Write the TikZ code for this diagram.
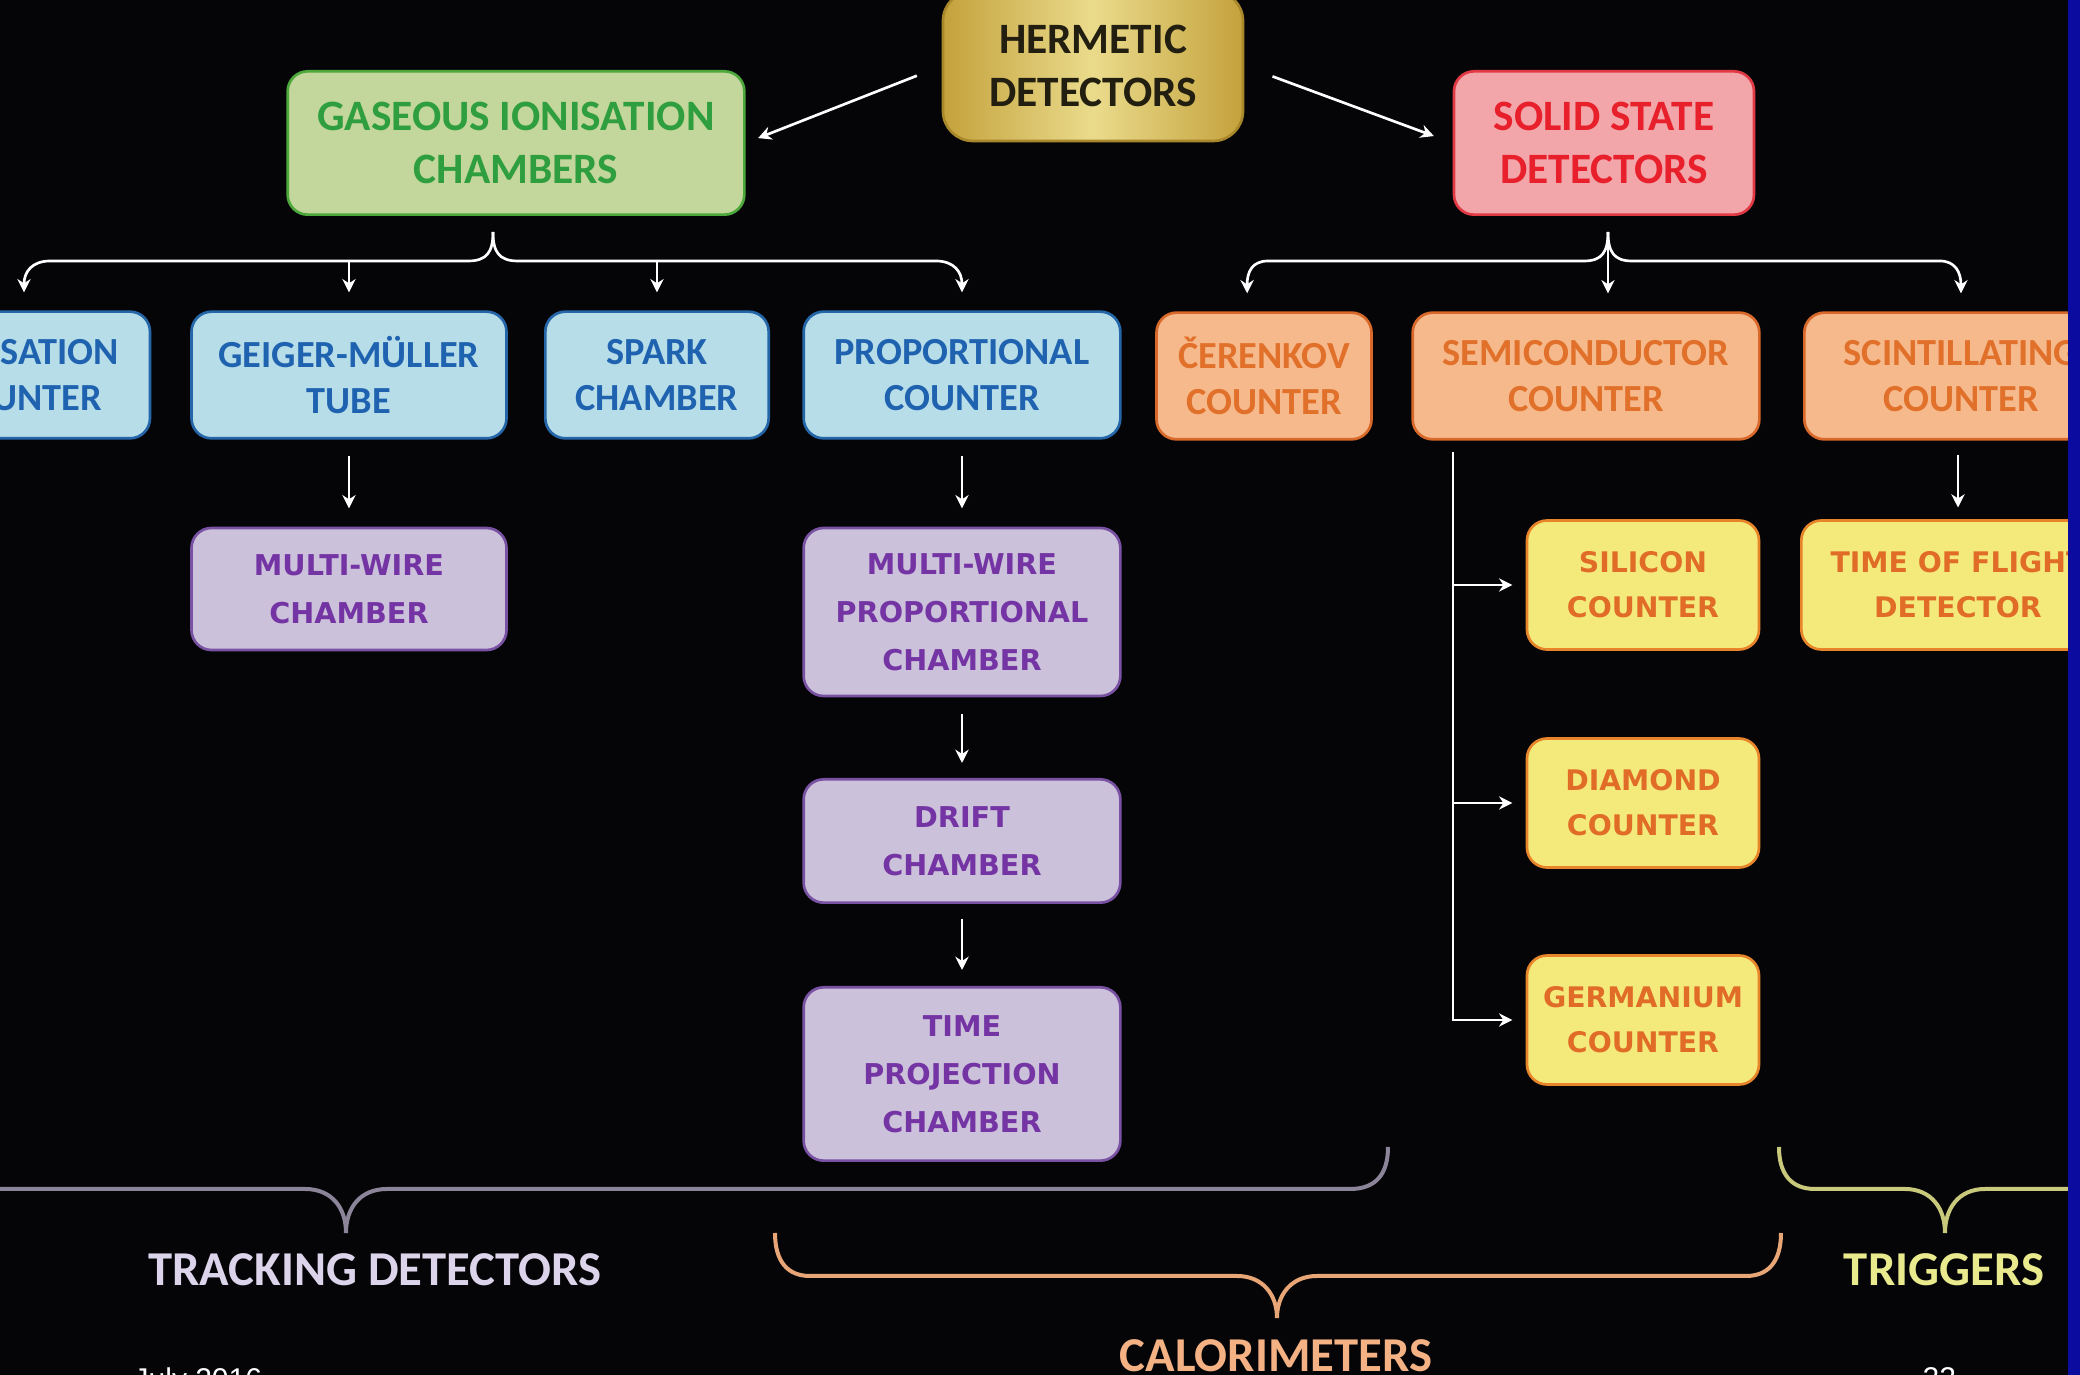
\documentclass[tikz,border=0pt]{standalone}
\usepackage{fontspec}
\setmainfont{Carlito}
\newfontfamily\widefont{DejaVu Sans}
\newfontfamily\footfont{Liberation Sans}
\usetikzlibrary{arrows.meta}

\definecolor{bgblack}{HTML}{050508}
\definecolor{slideblue}{HTML}{0B0BA0}
\definecolor{goldlight}{HTML}{EADB8C}
\definecolor{golddark}{HTML}{C4A23C}
\definecolor{goldedge}{HTML}{A8882A}
\definecolor{goldtext}{HTML}{221E10}
\definecolor{gasfill}{HTML}{C3D69B}
\definecolor{gasedge}{HTML}{4CA83A}
\definecolor{gastext}{HTML}{2E9E3E}
\definecolor{solidfill}{HTML}{F2A6AA}
\definecolor{solidedge}{HTML}{E23A44}
\definecolor{solidtext}{HTML}{E8202C}
\definecolor{bluefill}{HTML}{B7DDE8}
\definecolor{blueedge}{HTML}{2466A8}
\definecolor{bluetext}{HTML}{1F63B0}
\definecolor{orangefill}{HTML}{F6B98C}
\definecolor{orangeedge}{HTML}{D8692A}
\definecolor{orangetext}{HTML}{E0702A}
\definecolor{purplefill}{HTML}{CCC1DA}
\definecolor{purpleedge}{HTML}{7A52A4}
\definecolor{purpletext}{HTML}{7434A4}
\definecolor{yellowfill}{HTML}{F4EA7C}
\definecolor{yellowedge}{HTML}{E8852A}
\definecolor{yellowtext}{HTML}{E06C28}
\definecolor{trackline}{HTML}{8C8599}
\definecolor{tracktext}{HTML}{DCD4EA}
\definecolor{caloline}{HTML}{E8A677}
\definecolor{calotext}{HTML}{F4B183}
\definecolor{trigline}{HTML}{C9C97C}
\definecolor{trigtext}{HTML}{E9E98E}

\begin{document}
\begin{tikzpicture}[x=0.3pt, y=-0.3pt,
	box/.style={draw, rounded corners=6pt, line width=0.8pt, align=center, inner sep=0pt},
	topbox/.style={box, font=\fontsize{13}{16}\selectfont\bfseries, minimum height=43pt},
	rowbox/.style={box, font=\fontsize{11.5}{14}\selectfont\bfseries, minimum height=38pt},
	hermbox/.style={topbox, rounded corners=9pt, minimum width=90pt, minimum height=45pt, draw=goldedge,
		left color=golddark, right color=golddark, middle color=goldlight, text=goldtext},
	gasbox/.style={topbox, fill=gasfill, draw=gasedge, text=gastext},
	solidbox/.style={topbox, fill=solidfill, draw=solidedge, text=solidtext},
	bluebox/.style={rowbox, fill=bluefill, draw=blueedge, text=bluetext},
	orangebox/.style={rowbox, fill=orangefill, draw=orangeedge, text=orangetext},
	tubebox/.style={box, font=\widefont\fontsize{8.6}{14.4}\selectfont\bfseries, minimum width=95pt,
		fill=purplefill, draw=purpleedge, text=purpletext},
	chipbox/.style={box, font=\widefont\fontsize{8.5}{13.5}\selectfont\bfseries, minimum width=69.6pt,
		minimum height=38.7pt, fill=yellowfill, draw=yellowedge, text=yellowtext},
	link/.style={white, line width=0.8pt, -{Stealth[length=4pt, width=4pt]}, shorten >=5.4pt},
	bracket/.style={line width=1.2pt},
	tag/.style={font=\fontsize{14.6}{17}\selectfont\bfseries, inner sep=0pt},
	foot/.style={font=\footfont\fontsize{9}{11}\selectfont, text=white, inner sep=0pt}]

	\useasboundingbox (0,0) rectangle (2080,1375);
	\fill[bgblack] (0,0) rectangle (2080,1375);
	\clip (0,0) rectangle (2080,1375);

	% top level
	\node[hermbox] (herm) at (1093,66) {HERMETIC\\DETECTORS};
	\node[gasbox, minimum width=137pt] (gas) at (516,143) {GASEOUS IONISATION\\CHAMBERS};
	\node[solidbox, minimum width=90pt] (solid) at (1604,143) {SOLID STATE\\DETECTORS};

	% gaseous family
	\node[bluebox, minimum width=75.6pt] (ion) at (24,375) {IONISATION\\COUNTER};
	\node[bluebox, minimum width=94.5pt] (geiger) at (349,375) {GEIGER-MÜLLER\\TUBE};
	\node[bluebox, minimum width=67pt] (spark) at (657,375) {SPARK\\CHAMBER};
	\node[bluebox, minimum width=95pt] (prop) at (962,375) {PROPORTIONAL\\COUNTER};

	\node[tubebox, minimum width=94.5pt, minimum height=36.6pt] (mw) at (349,589) {MULTI-WIRE\\CHAMBER};
	\node[tubebox, minimum height=50.4pt] (mwpc) at (962,612) {MULTI-WIRE\\PROPORTIONAL\\CHAMBER};
	\node[tubebox, minimum height=37pt] (drift) at (962,841) {DRIFT\\CHAMBER};
	\node[tubebox, minimum height=52pt] (tpc) at (962,1074) {TIME\\PROJECTION\\CHAMBER};

	% solid state family
	\node[orangebox, minimum width=64.5pt] (cer) at (1264,376) {ČERENKOV\\COUNTER};
	\node[orangebox, minimum width=104pt] (semi) at (1586,376) {SEMICONDUCTOR\\COUNTER};
	\node[orangebox, minimum width=94pt] (scint) at (1961,376) {SCINTILLATING\\COUNTER};

	\node[chipbox] (sil) at (1643,585) {SILICON\\COUNTER};
	\node[chipbox] (dia) at (1643,803) {DIAMOND\\COUNTER};
	\node[chipbox] (ger) at (1643,1020) {GERMANIUM\\COUNTER};
	\node[chipbox, minimum width=94pt] (tof) at (1958,585) {TIME OF FLIGHT\\DETECTOR};

	% connectors
	\draw[link, shorten <=8pt, shorten >=4pt] (herm.west) -- (gas.east);
	\draw[link, shorten <=9pt, shorten >=6pt] (herm.east) -- (solid.west);

	\coordinate (gasfork) at (493,232);
	\coordinate (solfork) at (1608,232);
	\coordinate (bar) at (0,261);
	\coordinate (semitap) at (1453,452);

	\draw[link] (gasfork) .. controls (493,252) and (487,261) .. (468,261) -- (50,261)
		.. controls (32,261) and (24,272) .. (ion.north);
	\draw[link] (gasfork) .. controls (493,252) and (499,261) .. (518,261) -- (936,261)
		.. controls (954,261) and (962,272) .. (prop.north);
	\draw[link] (geiger.north |- bar) -- (geiger.north);
	\draw[link] (spark.north |- bar) -- (spark.north);

	\draw[link] (solfork) .. controls (1608,252) and (1602,261) .. (1584,261) -- (1268,261)
		.. controls (1252,261) and (1247,272) .. ([xshift=-5pt]cer.north);
	\draw[link] (solfork) .. controls (1608,252) and (1614,261) .. (1632,261) -- (1940,261)
		.. controls (1955,261) and (1961,272) .. (scint.north);
	\draw[link] (solfork) -- (solfork |- semi.north);

	\draw[link, shorten <=5pt, shorten >=5.5pt] (geiger) -- (mw);
	\draw[link, shorten <=5pt, shorten >=5.5pt] (prop) -- (mwpc);
	\draw[link, shorten <=5pt, shorten >=4.5pt] (mwpc) -- (drift);
	\draw[link, shorten <=4.5pt, shorten >=4.8pt] (drift) -- (tpc);
	\draw[link, shorten <=4.2pt, shorten >=3.5pt] (scint.south -| tof.north) -- (tof.north);

	\draw[link, shorten >=4pt] (semitap) |- (ger.west);
	\draw[link, shorten >=4pt] (semitap |- sil.west) -- (sil.west);
	\draw[link, shorten >=4pt] (semitap |- dia.west) -- (dia.west);

	% groupings
	\draw[bracket, trackline] (-10,1189) -- (305,1189) .. controls (332,1189) and (346,1208) .. (346,1233)
		.. controls (346,1208) and (360,1189) .. (387,1189) -- (1350,1189)
		.. controls (1376,1189) and (1388,1174) .. (1388,1147);
	\draw[bracket, caloline] (775,1233) .. controls (775,1262) and (788,1276) .. (810,1276) -- (1237,1276)
		.. controls (1263,1276) and (1277,1295) .. (1277,1318)
		.. controls (1277,1295) and (1291,1276) .. (1317,1276) -- (1746,1276)
		.. controls (1768,1276) and (1781,1262) .. (1781,1233);
	\draw[bracket, trigline] (1779,1147) .. controls (1779,1175) and (1792,1189) .. (1815,1189) -- (1905,1189)
		.. controls (1931,1189) and (1945,1208) .. (1945,1233)
		.. controls (1945,1208) and (1959,1189) .. (1985,1189) -- (2080,1189);

	\node[tag, text=tracktext] (tracking) at (375,1270) {TRACKING DETECTORS};
	\node[tag, text=calotext] (calo) at (1276,1356) {CALORIMETERS};
	\node[tag, text=trigtext] (triggers) at (1944,1270) {TRIGGERS};

	\node[foot, anchor=north west] (date) at (133,1367) {July 2016};
	\node[foot, anchor=north west] (page) at (1922,1367) {22};

	\fill[slideblue] (2068,0) rectangle (2080,1375);
\end{tikzpicture}
\end{document}
